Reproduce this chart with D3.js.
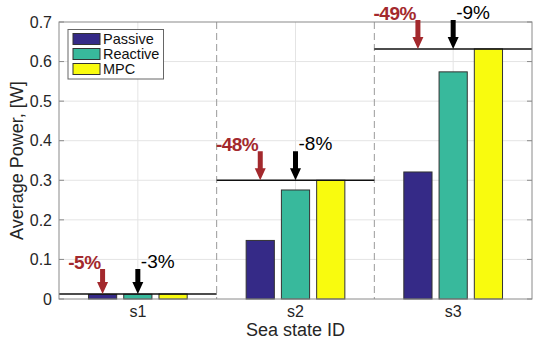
<!DOCTYPE html>
<html>
<head>
<meta charset="utf-8">
<script src="https://cdn.jsdelivr.net/npm/d3@7"></script>
<style>
  body { margin: 0; background: #fff; }
  svg { display: block; font-family: "Liberation Sans", Arial, sans-serif; }
</style>
</head>
<body>
<div id="chart"></div>
<script>
// Average power per sea state - grouped bars with MPC reference lines
const categories = ['s1', 's2', 's3'];
const seriesNames = ['Passive', 'Reactive', 'MPC'];
const passive = [0.0115, 0.148, 0.321];
const reactive = [0.012, 0.2755, 0.574];
const mpc = [0.0126, 0.300, 0.632];
const passiveLabels = ['-5%', '-48%', '-49%'];
const reactiveLabels = ['-3%', '-8%', '-9%'];
const yTicks = [0, 0.1, 0.2, 0.3, 0.4, 0.5, 0.6, 0.7];

const colors = { Passive: '#352a87', Reactive: '#38b99c', MPC: '#f9fb0e' };
const arrowLen = [25, 29, 29];

const W = 550, H = 343;
const m = { left: 59, right: 18, top: 22, bottom: 44 };

const svg = d3.select('#chart').append('svg')
    .attr('width', W).attr('height', H);

const x = d3.scaleBand().domain(categories).range([m.left, W - m.right]);
const bw = x.bandwidth();
const xs = d3.scaleBand().domain(seriesNames)
    .range([bw * 0.187, bw * 0.813]).paddingInner(0.2);
const y = d3.scaleLinear().domain([0, 0.7]).range([H - m.bottom, m.top]);

const plotL = m.left, plotR = W - m.right, plotT = m.top, plotB = H - m.bottom;

// grid
const grid = svg.append('g');
grid.selectAll('line.h').data(yTicks.slice(1, -1)).join('line')
    .attr('x1', plotL).attr('x2', plotR)
    .attr('y1', d => y(d)).attr('y2', d => y(d))
    .attr('stroke', '#e4e4e4').attr('stroke-width', 1);
grid.selectAll('line.v').data(categories).join('line')
    .attr('x1', d => x(d) + bw / 2).attr('x2', d => x(d) + bw / 2)
    .attr('y1', plotT).attr('y2', plotB)
    .attr('stroke', '#e4e4e4').attr('stroke-width', 1);

// dashed separators
svg.append('g').selectAll('line').data(categories.slice(1)).join('line')
    .attr('x1', d => x(d)).attr('x2', d => x(d))
    .attr('y1', plotT).attr('y2', plotB)
    .attr('stroke', '#9a9a9a').attr('stroke-width', 1)
    .attr('stroke-dasharray', '7,4');

// bars
const rows = categories.map((c, i) => ({ c, i, vals: [passive[i], reactive[i], mpc[i]] }));
const groups = svg.append('g').selectAll('g').data(rows).join('g')
    .attr('transform', d => `translate(${x(d.c)},0)`);
groups.selectAll('rect')
    .data(d => d.vals.map((v, k) => ({ name: seriesNames[k], v })))
    .join('rect')
    .attr('x', d => xs(d.name))
    .attr('width', xs.bandwidth())
    .attr('y', d => y(d.v))
    .attr('height', d => y(0) - y(d.v))
    .attr('fill', d => colors[d.name])
    .attr('stroke', '#333')
    .attr('stroke-width', 1);

// MPC reference lines
svg.append('g').selectAll('line').data(rows).join('line')
    .attr('x1', d => x(d.c)).attr('x2', d => x(d.c) + bw)
    .attr('y1', d => y(mpc[d.i])).attr('y2', d => y(mpc[d.i]))
    .attr('stroke', '#111').attr('stroke-width', 1.5);

// axes box
const axisColor = '#8a8a8a';
svg.append('rect')
    .attr('x', plotL).attr('y', plotT)
    .attr('width', plotR - plotL).attr('height', plotB - plotT)
    .attr('fill', 'none').attr('stroke', axisColor).attr('stroke-width', 1);

// y ticks (inside, both sides)
const yAxis = svg.append('g');
yAxis.selectAll('line.l').data(yTicks).join('line')
    .attr('x1', plotL).attr('x2', plotL + 5)
    .attr('y1', d => y(d)).attr('y2', d => y(d))
    .attr('stroke', axisColor);
yAxis.selectAll('line.r').data(yTicks).join('line')
    .attr('x1', plotR - 5).attr('x2', plotR)
    .attr('y1', d => y(d)).attr('y2', d => y(d))
    .attr('stroke', axisColor);
yAxis.selectAll('text').data(yTicks).join('text')
    .attr('x', plotL - 7).attr('y', d => y(d))
    .attr('dy', '0.36em')
    .attr('text-anchor', 'end')
    .attr('font-size', 16).attr('fill', '#262626')
    .text(d => d === 0 ? '0' : d3.format('.1f')(d));

// x tick labels
svg.append('g').selectAll('text').data(categories).join('text')
    .attr('x', d => x(d) + bw / 2).attr('y', plotB + 18)
    .attr('text-anchor', 'middle')
    .attr('font-size', 16).attr('fill', '#262626')
    .text(d => d);

// axis titles
svg.append('text')
    .attr('x', (plotL + plotR) / 2).attr('y', plotB + 37)
    .attr('text-anchor', 'middle')
    .attr('font-size', 18).attr('fill', '#262626')
    .text('Sea state ID');
svg.append('text')
    .attr('transform', `translate(23,${(plotT + plotB) / 2}) rotate(-90)`)
    .attr('text-anchor', 'middle')
    .attr('font-size', 18).attr('fill', '#262626')
    .text('Average Power, [W]');

// arrows + percentage labels
function arrow(g, cx, tipY, len, color) {
    const sw = 2.5, hw = 5.5, hh = 12;
    const top = tipY - len;
    g.append('path')
        .attr('d', `M${cx - sw},${top} L${cx + sw},${top} L${cx + sw},${tipY - hh} L${cx + hw},${tipY - hh}
                    L${cx},${tipY} L${cx - hw},${tipY - hh} L${cx - sw},${tipY - hh} Z`)
        .attr('fill', color);
}
const ann = svg.append('g');
rows.forEach(d => {
    const tip = y(mpc[d.i]);
    const len = arrowLen[d.i];
    const px = x(d.c) + xs('Passive') + xs.bandwidth() / 2;
    const rx = x(d.c) + xs('Reactive') + xs.bandwidth() / 2;
    arrow(ann, px, tip, len, '#a3292d');
    arrow(ann, rx, tip, len, '#000');
    ann.append('text')
        .attr('x', px - 2).attr('y', tip - len)
        .attr('text-anchor', 'end')
        .attr('font-size', 19).attr('font-weight', 'bold')
        .attr('letter-spacing', -0.5)
        .attr('fill', '#a3292d')
        .text(passiveLabels[d.i]);
    ann.append('text')
        .attr('x', rx + 3).attr('y', tip - len - 1)
        .attr('font-size', 19).attr('fill', '#000')
        .text(reactiveLabels[d.i]);
});

// legend
const lg = svg.append('g').attr('transform', 'translate(68,29.5)');
lg.append('rect').attr('width', 95.5).attr('height', 49.5)
    .attr('fill', '#fff').attr('stroke', '#666').attr('stroke-width', 1);
seriesNames.forEach((s, i) => {
    const r = lg.append('g').attr('transform', `translate(5,${4 + i * 15})`);
    r.append('rect').attr('width', 27).attr('height', 11)
        .attr('fill', colors[s]).attr('stroke', '#333');
    r.append('text').attr('x', 30).attr('y', 5.5).attr('dy', '0.36em')
        .attr('font-size', 14.5).attr('fill', '#111')
        .text(s);
});
</script>
</body>
</html>
